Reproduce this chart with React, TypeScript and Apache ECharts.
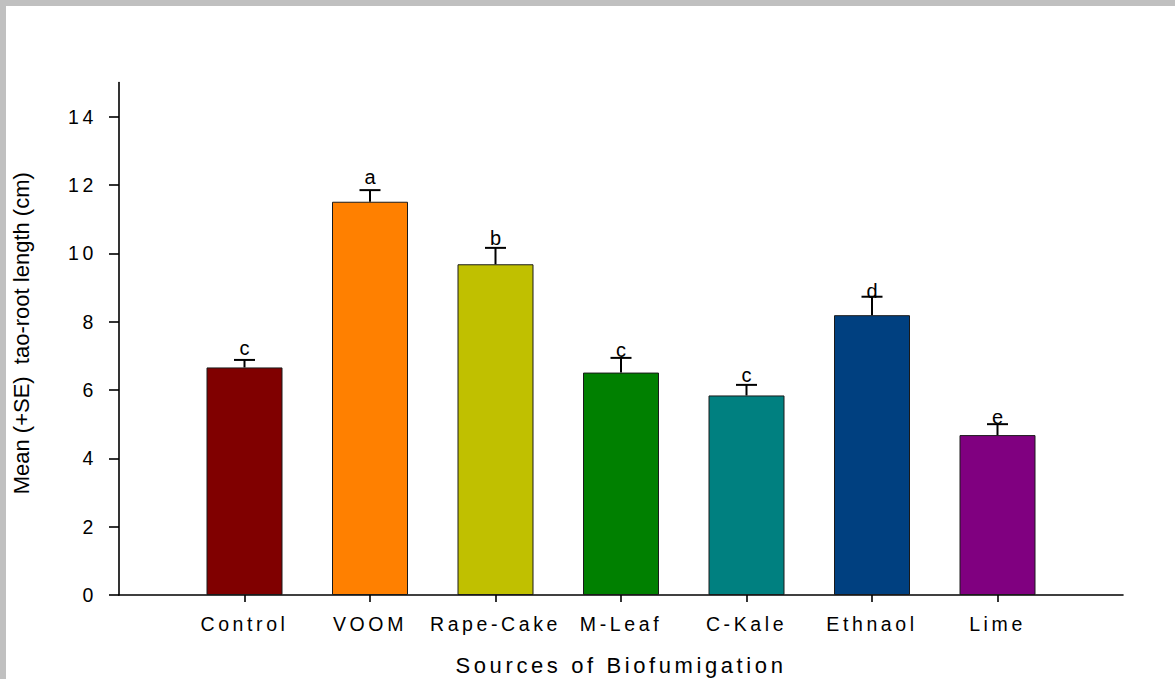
import React, { useEffect, useRef } from "react";
import * as echarts from "echarts";

// Treatments and their mean tap-root length with the upper end of the SE bar
const categories = ["Control", "VOOM", "Rape-Cake", "M-Leaf", "C-Kale", "Ethnaol", "Lime"];
const means = [6.66, 11.51, 9.68, 6.51, 5.84, 8.19, 4.68];
const upperSE = [6.88, 11.85, 10.16, 6.94, 6.15, 8.73, 5.0];

// Significance grouping letters and the height (cm) of their baselines
const groupLetters = ["c", "a", "b", "c", "c", "d", "e"];
const letterHeights = [7.02, 12.02, 10.24, 6.96, 6.24, 8.68, 5.0];

const barColors = ["#800000", "#ff8000", "#c0c000", "#008000", "#008080", "#004080", "#800080"];
const yTicks = [0, 2, 4, 6, 8, 10, 12, 14];

// Bars sit at slots 1..7 of a 0..8 axis
const slots = categories.map((_, i) => i + 1);

const SPACED = "'Liberation Sans'";
const PLAIN = "'Liberation Sans', Arial";

export default function App() {
  const ref = useRef<HTMLDivElement>(null);

  useEffect(() => {
    if (!ref.current) return;
    const chart = echarts.init(ref.current, undefined, { renderer: "svg" });
    const axisStroke = { color: "#000", width: 1.6 };

    chart.setOption({
      animation: false,
      backgroundColor: "#ffffff",
      grid: { left: 119, right: 52, top: 82.5, bottom: 84, outerBoundsMode: "none" },
      xAxis: {
        type: "value",
        min: 0,
        max: 8,
        name: "Sources of Biofumigation",
        nameLocation: "middle",
        nameGap: 59,
        nameTextStyle: { fontFamily: SPACED, fontSize: 22, color: "#000" },
        axisLine: { show: true, onZero: false, lineStyle: axisStroke },
        axisTick: { show: true, customValues: slots, length: 7, lineStyle: axisStroke },
        axisLabel: {
          customValues: slots,
          formatter: (v: number) => categories[Math.round(v) - 1] ?? "",
          margin: 19,
          fontFamily: SPACED,
          fontSize: 19.5,
          color: "#000",
        },
        splitLine: { show: false },
      },
      yAxis: {
        type: "value",
        min: 0,
        max: 15,
        name: "Mean (+SE)  tao-root length (cm)",
        nameLocation: "middle",
        nameGap: 87,
        nameRotate: 90,
        nameTextStyle: { fontFamily: PLAIN, fontSize: 22, color: "#000", padding: [0, 0, 0, 11] },
        axisLine: { show: true, lineStyle: axisStroke },
        axisTick: { show: true, customValues: yTicks, length: 10, lineStyle: axisStroke },
        axisLabel: {
          customValues: yTicks,
          margin: 22,
          fontFamily: SPACED,
          fontSize: 19.5,
          color: "#000",
        },
        splitLine: { show: false },
      },
      graphic: [
        { type: "rect", shape: { x: 0, y: 0, width: 1175, height: 6 }, style: { fill: "#c0c0c0" }, silent: true },
        { type: "rect", shape: { x: 0, y: 0, width: 6, height: 679 }, style: { fill: "#c0c0c0" }, silent: true },
      ],
      series: [
        {
          type: "bar",
          barWidth: 76,
          data: slots.map((x, i) => ({
            value: [x, means[i]],
            itemStyle: { color: barColors[i] },
          })),
          itemStyle: { borderColor: "#1a1a1a", borderWidth: 1 },
          z: 2,
        },
        {
          type: "custom",
          z: 3,
          encode: { x: 0, y: [1, 2] },
          data: slots.map((x, i) => [x, means[i], upperSE[i]]),
          renderItem: (_params: any, api: any) => {
            const x = api.value(0);
            const base = api.coord([x, api.value(1)]);
            const top = api.coord([x, api.value(2)]);
            const style = { stroke: "#000", lineWidth: 2 };
            return {
              type: "group",
              children: [
                { type: "line", shape: { x1: base[0], y1: base[1], x2: top[0], y2: top[1] }, style },
                { type: "line", shape: { x1: top[0] - 10.5, y1: top[1], x2: top[0] + 10.5, y2: top[1] }, style },
              ],
            };
          },
        },
        {
          type: "custom",
          z: 4,
          encode: { x: 0, y: 1 },
          data: slots.map((x, i) => [x, letterHeights[i], i]),
          renderItem: (_params: any, api: any) => {
            const p = api.coord([api.value(0), api.value(1)]);
            return {
              type: "text",
              x: p[0],
              y: p[1] + 3,
              style: {
                text: groupLetters[api.value(2)],
                fontFamily: PLAIN,
                fontSize: 20,
                fill: "#000",
                align: "center",
                verticalAlign: "bottom",
              },
            };
          },
        },
      ],
    });

    return () => chart.dispose();
  }, []);

  return (
    <div style={{ position: "fixed", left: 0, top: 0, width: 1175, height: 679, background: "#fff" }}>
      <style>{`
        .biofum-chart svg text { letter-spacing: 3.6px; }
        .biofum-chart svg text[style*="Arial"] { letter-spacing: 0; }
      `}</style>
      <div ref={ref} className="biofum-chart" style={{ width: 1175, height: 679 }} />
    </div>
  );
}
